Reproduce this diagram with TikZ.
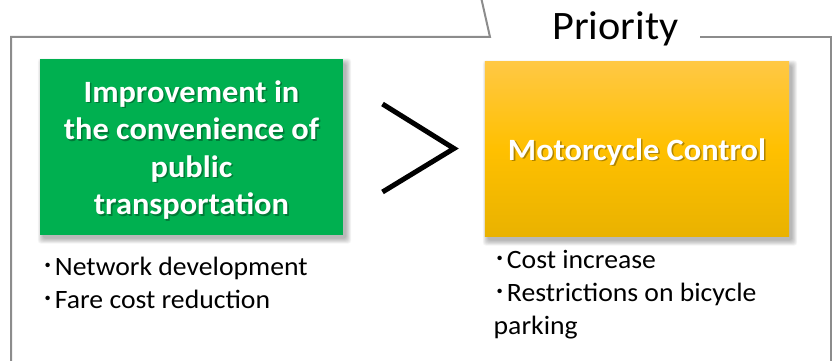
\documentclass[tikz,border=0pt]{standalone}
\usepackage{fontspec}
\setmainfont{Carlito}[FakeStretch=1.045]
\newfontfamily\cjkfont{Noto Sans CJK JP}
\newcommand{\listdot}{{\cjkfont ･}}
\definecolor{framegray}{HTML}{8C8C8C}
\definecolor{boxgreen}{HTML}{00B050}
\definecolor{goldtop}{HTML}{FFC845}
\definecolor{goldmid}{HTML}{FFC000}
\definecolor{goldbot}{HTML}{E9B200}
\tikzset{
  frameline/.style={draw=framegray, line width=2pt},
  boxbase/.style={minimum width=303pt, minimum height=175pt, inner sep=0pt},
  titletext/.style={font=\bfseries\fontsize{31}{37.5}\selectfont, align=center, inner sep=0pt, text=white},
  titleshadow/.style={font=\bfseries\fontsize{31}{37.5}\selectfont, align=center, inner sep=0pt, text=black, opacity=0.3},
  itemtext/.style={font=\fontsize{26.5}{33}\selectfont, anchor=base west, inner sep=0pt, align=left},
  gtsign/.style={line width=5pt, line join=miter},
}
% soft drop shadow behind a rectangular node, offset to the lower right
\newcommand{\softshadow}[1]{%
  \foreach \k in {0,...,7}{%
    \fill[black, opacity=0.04, rounded corners=3pt]
      ([shift={(3-\k*0.7,4+\k*0.7)}]#1.south west) rectangle
      ([shift={(3+\k*0.7,4-\k*0.7)}]#1.north east);
  }}
\begin{document}
\begin{tikzpicture}[x=1pt, y=-1pt]
\useasboundingbox (0,0) rectangle (832,361);

% outer frame with the tab for the heading
\coordinate (fbl) at (11,375);
\coordinate (ftl) at (11,37);
\coordinate (tabfoot) at (490,37);
\coordinate (tabtop) at (481.2,-2);
\coordinate (ftr0) at (700,37);
\coordinate (ftr) at (830.5,37);
\coordinate (fbr) at (830.5,375);
\draw[frameline] (fbl) -- (ftl) -- (tabfoot) -- (tabtop);
\draw[frameline] (ftr0) -- (ftr) -- (fbr);
\node[anchor=base, inner sep=0pt, font=\fontsize{40.4}{40}\selectfont] (heading) at (615.5,39.5) {Priority};

% left box: public transport
\path (191.5,147) node[boxbase] (pub) {};
\softshadow{pub}
\node[boxbase, fill=boxgreen] at (pub) {};
\node[titleshadow] at ([shift={(1.6,1.8)}]191.5,150) {Improvement in\\the convenience of\\public\\transportation};
\node[titletext] (pubtext) at (191.5,150) {Improvement in\\the convenience of\\public\\transportation};

% right box: motorcycle control
\path (637,149) node[boxbase, minimum height=175pt, minimum width=304pt] (moto) {};
\softshadow{moto}
\shade[top color=goldtop, bottom color=goldbot, middle color=goldmid]
  (moto.south west) rectangle (moto.north east);
\node[titleshadow, anchor=base] at (638.6,161.8) {Motorcycle Control};
\node[titletext, anchor=base] (mototext) at (637,160) {Motorcycle Control};

% priority sign between the boxes
\coordinate (gt1) at (382.5,104);
\coordinate (gt2) at (454,148.5);
\coordinate (gt3) at (382.5,192);
\draw[gtsign] (gt1) -- (gt2) -- (gt3);

% item lists (anchored at the baseline of their last line)
\node[itemtext] (publist) at (41.5,308) {\listdot Network development\\\listdot Fare cost reduction};
\node[itemtext] (motolist) at (493.5,334) {\listdot Cost increase\\\listdot Restrictions on bicycle\\parking};
\end{tikzpicture}
\end{document}
